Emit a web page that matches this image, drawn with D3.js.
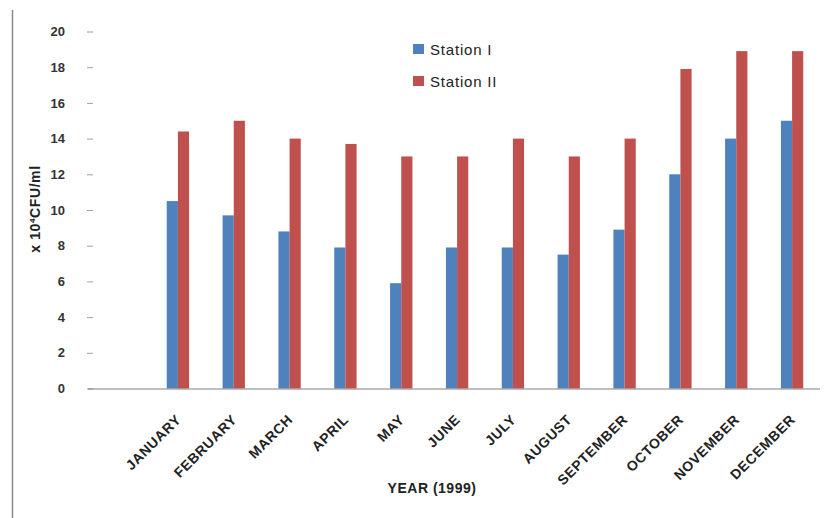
<!DOCTYPE html>
<html>
<head>
<meta charset="utf-8">
<script src="https://cdn.jsdelivr.net/npm/d3@7"></script>
<style>
  html, body { margin: 0; padding: 0; background: #fff; }
  svg { display: block; }
</style>
</head>
<body>
<svg id="chart" width="835" height="518"></svg>
<script>
// Monthly bacterial counts (x 10^4 CFU/ml) at two stations, 1999
const months = ["JANUARY", "FEBRUARY", "MARCH", "APRIL", "MAY", "JUNE",
                "JULY", "AUGUST", "SEPTEMBER", "OCTOBER", "NOVEMBER", "DECEMBER"];
const stationI  = [10.5, 9.7, 8.8, 7.9, 5.9, 7.9, 7.9, 7.5, 8.9, 12, 14, 15];
const stationII = [14.4, 15, 14, 13.7, 13, 13, 14, 13, 14, 17.9, 18.9, 18.9];
const seriesNames = ["Station I", "Station II"];
const yTicks = [0, 2, 4, 6, 8, 10, 12, 14, 16, 18, 20];

const colors = ["#4F81BD", "#C0504D"];
const svg = d3.select("#chart");
const font = "'Liberation Sans', Arial, sans-serif";

const y = d3.scaleLinear().domain([0, 20]).range([388.5, 31.5]);
const x = d3.scaleBand().domain(months).range([150, 820]).paddingInner(0.6).paddingOuter(0.3);
const xs = d3.scaleBand().domain(seriesNames).range([0, x.bandwidth()]);

// outer frame edge on the left
svg.append("line").attr("x1", 12.5).attr("x2", 12.5).attr("y1", 10).attr("y2", 518)
  .attr("stroke", "#8a8a8a").attr("stroke-width", 1.5);

// y axis: labels and small tick marks, no axis line
const yAxis = d3.axisLeft(y).tickValues(yTicks).tickSize(-6).tickPadding(22);
const gy = svg.append("g").attr("transform", "translate(87,0)").call(yAxis);
gy.select(".domain").remove();
gy.selectAll(".tick line").attr("stroke", "#a0a0a0");
gy.selectAll(".tick text").attr("font-family", font).attr("font-size", 13)
  .attr("fill", "#333").attr("font-weight", "bold");

// bars
const data = months.map((m, i) => ({ month: m, values: [stationI[i], stationII[i]] }));
const groups = svg.append("g").selectAll("g").data(data).join("g")
  .attr("transform", d => `translate(${x(d.month)},0)`);
groups.selectAll("rect").data(d => d.values.map((v, k) => ({ v, k })))
  .join("rect")
  .attr("x", d => xs(seriesNames[d.k]))
  .attr("width", xs.bandwidth())
  .attr("y", d => y(d.v))
  .attr("height", d => y(0) - y(d.v))
  .attr("fill", d => colors[d.k]);

// baseline
svg.append("line").attr("x1", 88).attr("x2", 820).attr("y1", y(0) + 0.5).attr("y2", y(0) + 0.5)
  .attr("stroke", "#808080").attr("stroke-width", 1.2);

// x axis category labels, rotated
const xAxis = d3.axisBottom(x).tickSize(0).tickPadding(0);
const gx = svg.append("g").attr("transform", `translate(0,${y(0)})`).call(xAxis);
gx.select(".domain").remove();
gx.selectAll(".tick text")
  .attr("font-family", font).attr("font-size", 14).attr("font-weight", "bold").attr("fill", "#222")
  .attr("letter-spacing", 0.6)
  .attr("text-anchor", "end")
  .attr("dy", 0)
  .attr("transform", "translate(4,32) rotate(-45)");

// axis titles
svg.append("text").attr("x", 432).attr("y", 493).attr("text-anchor", "middle")
  .attr("font-family", font).attr("font-size", 14).attr("font-weight", "bold").attr("fill", "#222")
  .attr("letter-spacing", 0.5)
  .text("YEAR (1999)");

const yt = svg.append("text").attr("transform", "translate(40,209) rotate(-90)")
  .attr("text-anchor", "middle")
  .attr("font-family", font).attr("font-size", 14).attr("font-weight", "bold").attr("fill", "#222")
  .attr("letter-spacing", 0.6);
yt.append("tspan").text("x 10");
yt.append("tspan").attr("font-size", 8).attr("dy", -5).text("4");
yt.append("tspan").attr("dy", 5).text("CFU/ml");

// legend
const legend = svg.append("g").attr("transform", "translate(413,44)");
const items = legend.selectAll("g").data(seriesNames).join("g")
  .attr("transform", (d, i) => `translate(0,${i * 32})`);
items.append("rect").attr("width", 11).attr("height", 10).attr("fill", (d, i) => colors[i]);
items.append("text").attr("x", 17).attr("y", 11)
  .attr("font-family", font).attr("font-size", 15).attr("fill", "#222")
  .attr("letter-spacing", 0.8)
  .text(d => d);
</script>
</body>
</html>
